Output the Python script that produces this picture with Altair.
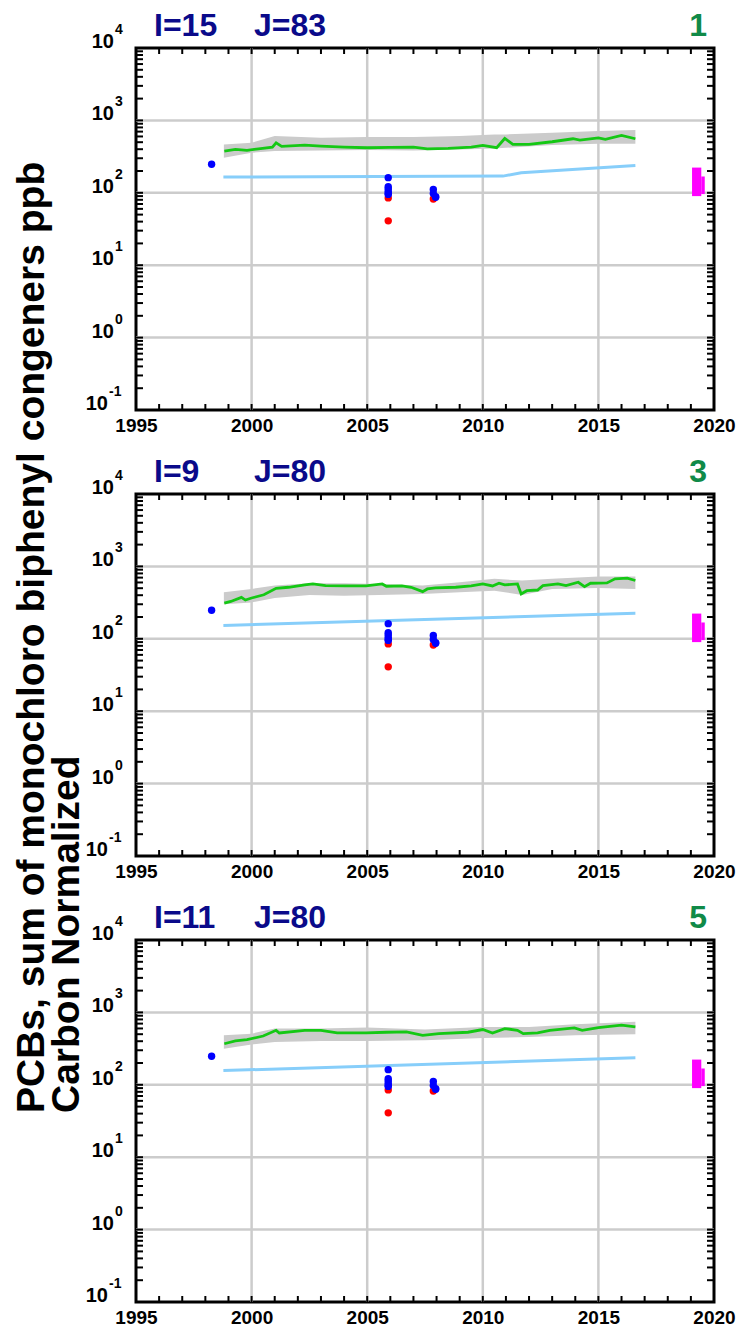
import altair as alt
import pandas as pd

# ---------------- axis / tick values ----------------
YEAR_LABELS = [1995, 2000, 2005, 2010, 2015, 2020]
GRID_YEARS = [2000, 2005, 2010, 2015]
TICK_YEARS = list(range(1996, 2020))
GRID_DECADES = [1, 10, 100, 1000]
LABEL_DECADES = [0.1, 1, 10, 100, 1000, 10000]
LABEL_EXPONENTS = ["-1", "0", "1", "2", "3", "4"]
MINOR_MULT = [1, 2, 3, 4, 5, 6, 7, 8, 9]
MINOR_EXP = [-1, 0, 1, 2, 3]

PANEL_I = ["I=15", "I=9", "I=11"]
PANEL_J = ["J=83", "J=80", "J=80"]
PANEL_N = ["1", "3", "5"]

YTITLE_1 = "PCBs, sum of monochloro biphenyl congeners ppb"
YTITLE_2 = "Carbon Normalized"

# ---------------- model (green) lines ----------------
G1_YEAR = [1998.82, 1999.3, 1999.8, 2000.3, 2000.9, 2001.06, 2001.3, 2002.3, 2003.0, 2004.0,
           2005.0, 2006.0, 2007.0, 2007.6, 2008.5, 2009.5, 2010.0, 2010.6, 2010.95, 2011.3,
           2012.0, 2013.0, 2013.9, 2014.2, 2015.0, 2015.3, 2016.0, 2016.6]
G1_VAL = [377, 397, 385, 405, 428, 491, 437, 456, 442, 428,
          419, 424, 428, 405, 410, 428, 451, 419, 563, 466,
          466, 507, 558, 533, 575, 546, 621, 558]

G2_YEAR = [1998.82, 1999.1, 1999.56, 1999.73, 2000.0, 2000.53, 2001.06, 2001.6, 2002.3, 2002.65,
           2003.2, 2004.06, 2004.95, 2005.65, 2005.83, 2006.5, 2006.9, 2007.4, 2007.6, 2007.95,
           2008.83, 2009.5, 2010.0, 2010.42, 2010.7, 2010.95, 2011.5, 2011.66, 2011.9, 2012.37,
           2012.6, 2013.25, 2013.6, 2014.13, 2014.4, 2014.66, 2015.37, 2015.72, 2016.25, 2016.6]
G2_VAL = [311, 328, 373, 343, 366, 406, 499, 515, 555, 573,
          543, 537, 537, 573, 532, 537, 515, 448, 488, 504,
          515, 537, 573, 537, 585, 555, 573, 416, 462, 472,
          543, 573, 543, 604, 526, 585, 592, 673, 688, 638]

G3_YEAR = [1998.82, 1999.3, 1999.8, 2000.5, 2001.06, 2001.2, 2002.3, 2003.0, 2003.7, 2004.95,
           2005.83, 2006.7, 2007.4, 2008.1, 2009.36, 2010.0, 2010.42, 2010.95, 2011.5, 2011.75,
           2012.37, 2012.9, 2013.96, 2014.3, 2015.0, 2016.0, 2016.6]
G3_VAL = [369, 403, 420, 472, 566, 520, 566, 566, 520, 520,
          532, 537, 483, 509, 532, 580, 520, 598, 566, 509,
          520, 566, 611, 566, 617, 665, 631]

# ---------------- grey uncertainty band ----------------
B1_YEAR = [1998.8, 2000.0, 2001.0, 2003.0, 2005.0, 2007.0, 2009.0, 2010.5, 2011.0, 2013.0, 2015.0, 2016.6]
B1_LO = [305, 357, 377, 385, 389, 385, 397, 410, 419, 456, 476, 476]
B1_HI = [466, 491, 607, 575, 589, 589, 607, 640, 640, 675, 713, 735]

B2_YEAR = [1998.8, 2000.0, 2001.0, 2002.5, 2004.0, 2005.5, 2007.4, 2009.0, 2010.5, 2011.7, 2013.0, 2015.0, 2016.6]
B2_LO = [301, 318, 366, 403, 394, 403, 416, 438, 462, 403, 488, 504, 488]
B2_HI = [438, 488, 543, 585, 585, 573, 543, 604, 673, 638, 673, 725, 725]

B3_YEAR = [1998.8, 2000.0, 2001.0, 2003.0, 2005.0, 2007.5, 2010.0, 2012.0, 2014.0, 2016.6]
B3_LO = [315, 361, 390, 403, 403, 411, 443, 457, 483, 499]
B3_HI = [483, 509, 598, 598, 617, 580, 631, 631, 687, 741]

# ---------------- light blue line ----------------
L1_YEAR = [1998.78, 2010.87, 2011.66, 2016.6]
L1_VAL = [165, 170, 189, 239]
L2_YEAR = [1998.78, 2016.6]
L2_VAL = [153, 226]
L3_YEAR = [1998.78, 2016.6]
L3_VAL = [157, 236]

# ---------------- observations ----------------
BLUE_YEAR = [1998.27, 2005.91, 2005.91, 2005.91, 2005.91, 2005.91, 2005.91, 2007.86, 2007.86, 2007.96, 2007.96]
BLUE_VAL = [248, 162, 121, 114, 105, 98, 95, 111, 98, 87, 88]
RED_YEAR = [2005.91, 2005.91, 2007.86]
RED_VAL = [85, 41, 82]

PINK_X0 = [2019.05, 2019.45]
PINK_X1 = [2019.45, 2019.6]
PINK_LO = [90, 96]
PINK_HI = [223, 168]

GREEN = [(G1_YEAR, G1_VAL), (G2_YEAR, G2_VAL), (G3_YEAR, G3_VAL)]
BAND = [(B1_YEAR, B1_LO, B1_HI), (B2_YEAR, B2_LO, B2_HI), (B3_YEAR, B3_LO, B3_HI)]
LBLUE = [(L1_YEAR, L1_VAL), (L2_YEAR, L2_VAL), (L3_YEAR, L3_VAL)]

W = 578
H = 362
FONT = "Liberation Sans"

xs = alt.Scale(domain=[1995, 2020], nice=False, zero=False)
ys = alt.Scale(type="log", domain=[0.1, 10000], nice=False)
xaxis = alt.Axis(values=YEAR_LABELS, title=None, grid=False, ticks=False, domain=False,
                 labelFontSize=19, labelFontWeight="bold", labelFont=FONT, labelColor="black",
                 labelPadding=6, labelFlush=False, labelOverlap=False, format="d")


def X(field):
    return alt.X(field, type="quantitative", scale=xs, axis=xaxis)


def Y(field):
    return alt.Y(field, type="quantitative", scale=ys, axis=None)


minor_ticks = [m * 10 ** e for e in MINOR_EXP for m in MINOR_MULT] + [10000]
lab_df = pd.DataFrame({"v": LABEL_DECADES, "e": LABEL_EXPONENTS})


def panel(k):
    layers = []
    layers.append(alt.Chart(pd.DataFrame({"year": GRID_YEARS})).mark_rule(
        color="#cccccc", strokeWidth=2.5).encode(x=X("year")))
    layers.append(alt.Chart(pd.DataFrame({"v": GRID_DECADES})).mark_rule(
        color="#cccccc", strokeWidth=2.5).encode(y=Y("v")))
    by, blo, bhi = BAND[k]
    layers.append(alt.Chart(pd.DataFrame({"year": by, "lo": blo, "hi": bhi})).mark_area(
        color="#cbcbcb").encode(x=X("year"), y=Y("lo"), y2="hi"))
    gy, gv = GREEN[k]
    layers.append(alt.Chart(pd.DataFrame({"year": gy, "v": gv})).mark_line(
        color="#14c814", strokeWidth=2.8).encode(x=X("year"), y=Y("v")))
    ly, lv = LBLUE[k]
    layers.append(alt.Chart(pd.DataFrame({"year": ly, "v": lv})).mark_line(
        color="#87cefa", strokeWidth=3).encode(x=X("year"), y=Y("v")))
    layers.append(alt.Chart(pd.DataFrame({"year": RED_YEAR, "v": RED_VAL})).mark_circle(
        color="#ff0000", size=55, opacity=1).encode(x=X("year"), y=Y("v")))
    layers.append(alt.Chart(pd.DataFrame({"year": BLUE_YEAR, "v": BLUE_VAL})).mark_circle(
        color="#0000ff", size=55, opacity=1).encode(x=X("year"), y=Y("v")))
    layers.append(alt.Chart(pd.DataFrame({"x0": PINK_X0, "x1": PINK_X1, "lo": PINK_LO, "hi": PINK_HI})).mark_rect(
        color="#ff00ff").encode(x=X("x0"), x2="x1", y=Y("lo"), y2="hi"))
    # inward ticks
    tdf = pd.DataFrame({"v": minor_ticks})
    layers.append(alt.Chart(tdf).mark_rule(color="black", strokeWidth=2).encode(
        y=Y("v"), x=alt.value(0), x2=alt.value(7)))
    layers.append(alt.Chart(tdf).mark_rule(color="black", strokeWidth=2).encode(
        y=Y("v"), x=alt.value(W - 7), x2=alt.value(W)))
    xdf = pd.DataFrame({"year": TICK_YEARS})
    layers.append(alt.Chart(xdf).mark_rule(color="black", strokeWidth=2).encode(
        x=X("year"), y=alt.value(H - 6), y2=alt.value(H)))
    layers.append(alt.Chart(xdf).mark_rule(color="black", strokeWidth=2).encode(
        x=X("year"), y=alt.value(0), y2=alt.value(6)))
    # y labels: 10 with superscript exponent
    pos = lab_df[lab_df["e"] != "-1"]
    neg = lab_df[lab_df["e"] == "-1"]
    for d, xr, xe in [(pos, -22, -21), (neg, -28, -27)]:
        layers.append(alt.Chart(d).mark_text(
            align="right", baseline="alphabetic", fontSize=20, fontWeight="bold", font=FONT,
            color="black").encode(y=Y("v"), x=alt.value(xr), text=alt.value("10")))
        layers.append(alt.Chart(d).mark_text(
            align="left", baseline="alphabetic", fontSize=14, fontWeight="bold", font=FONT,
            color="black", dy=-14).encode(y=Y("v"), x=alt.value(xe), text="e:N"))
    # header
    hdf = pd.DataFrame({"i": [PANEL_I[k]], "j": [PANEL_J[k]], "n": [PANEL_N[k]]})
    layers.append(alt.Chart(hdf).mark_text(
        align="left", baseline="alphabetic", fontSize=32, fontWeight="bold", font=FONT,
        color="#0a0a8a").encode(x=alt.value(18), y=alt.value(-12), text="i:N"))
    layers.append(alt.Chart(hdf).mark_text(
        align="left", baseline="alphabetic", fontSize=32, fontWeight="bold", font=FONT,
        color="#0a0a8a").encode(x=alt.value(118), y=alt.value(-12), text="j:N"))
    layers.append(alt.Chart(hdf).mark_text(
        align="right", baseline="alphabetic", fontSize=32, fontWeight="bold", font=FONT,
        color="#108a48").encode(x=alt.value(W - 7), y=alt.value(-12), text="n:N"))
    if k == 1:
        tdf2 = pd.DataFrame({"a": [YTITLE_1], "b": [YTITLE_2]})
        layers.append(alt.Chart(tdf2).mark_text(
            align="left", baseline="middle", angle=270, fontSize=39, fontWeight="bold",
            font=FONT, color="black").encode(x=alt.value(-104), y=alt.value(619), text="a:N"))
        layers.append(alt.Chart(tdf2).mark_text(
            align="left", baseline="middle", angle=270, fontSize=39, fontWeight="bold",
            font=FONT, color="black").encode(x=alt.value(-69), y=alt.value(619), text="b:N"))
    return alt.layer(*layers).properties(width=W, height=H)


chart = alt.vconcat(panel(0), panel(1), panel(2), spacing=84, bounds="flush").properties(
    padding={"left": 3, "top": 0, "right": 0, "bottom": 0}
).configure_view(stroke="black", strokeWidth=3)

chart.save("out.html", embed_options={"renderer": "svg", "actions": False})
